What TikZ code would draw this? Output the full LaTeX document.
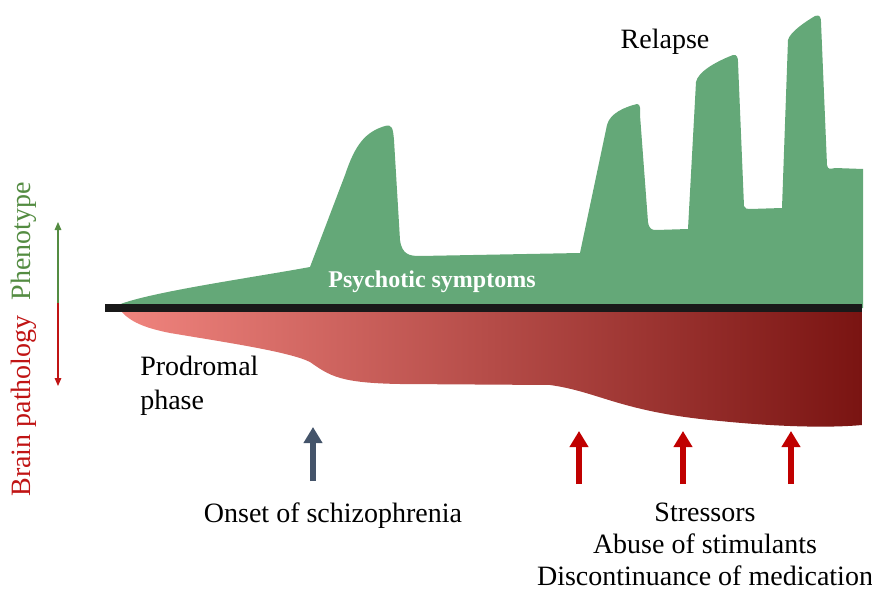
\documentclass[tikz,border=0pt]{standalone}
\usepackage{fontspec}
\setmainfont{Liberation Serif}
\usetikzlibrary{arrows.meta, positioning}

\definecolor{symgreen}{RGB}{100,168,120}
\definecolor{phenogreen}{RGB}{84,140,66}
\definecolor{pathred}{RGB}{192,20,20}
\definecolor{onsetblue}{RGB}{68,84,106}
\definecolor{trigred}{RGB}{192,0,0}
\definecolor{redlight}{RGB}{240,132,126}
\definecolor{redmid}{RGB}{178,66,60}
\definecolor{reddark}{RGB}{122,20,18}

\begin{document}
\begin{tikzpicture}[x=0.75pt, y=-0.75pt,
  lbl/.style={font=\fontsize{21}{25}\selectfont, align=center, inner sep=0pt},
  uparrow/.style={line width=5pt, -{Triangle[width=13.5pt, length=12pt]}},
  axisarrow/.style={line width=0.8pt, -{Triangle[width=5pt, length=6pt]}}]
\useasboundingbox (0,0) rectangle (872,592);

% symptoms above the time line
\fill[symgreen] (118,305) .. controls (150,292) and (250,278) .. (310,267)
  -- (345,175) .. controls (355,145) and (365,132) .. (385,126)
  .. controls (392,124) and (393,128) .. (394,140)
  -- (400,240) .. controls (402,255) and (410,256) .. (420,256)
  -- (580,253)
  -- (607,125) .. controls (610,113) and (625,107) .. (637,104)
  .. controls (641,104) and (640,110) .. (640,115)
  -- (648,222) .. controls (649,229) and (652,230) .. (656,230)
  -- (688,229)
  -- (696,82) .. controls (698,72) and (715,62) .. (733,55)
  .. controls (737,54) and (738,58) .. (738,62)
  -- (744,206) .. controls (745,209) and (747,209) .. (750,209)
  -- (782,208)
  -- (788,40) .. controls (790,32) and (805,22) .. (815,16)
  .. controls (820,14) and (821,18) .. (821,22)
  -- (827,165) .. controls (828,170) and (830,169) .. (835,168)
  -- (863,169) -- (863,308) -- (118,308) -- cycle;

% pathology below the time line
\shade[left color=redlight, middle color=redmid, right color=reddark]
  (120,310) .. controls (130,322) and (145,328) .. (170,333)
  .. controls (230,343) and (290,352) .. (310,362)
  .. controls (330,376) and (340,383) .. (400,384)
  -- (550,385)
  .. controls (600,392) and (620,412) .. (720,421)
  .. controls (780,427) and (830,428) .. (862,425)
  -- (862,310) -- cycle;

% time line
\coordinate (tstart) at (105,308);
\coordinate (tend) at (862,308);
\draw[line width=6pt, black!90] (tstart) -- (tend);

% labels
\node[lbl, font=\fontsize{18}{22}\selectfont\bfseries, text=white] (sym) at (432,282) {Psychotic symptoms};
\node[lbl] (relapse) at (665,42) {Relapse};
\node[lbl, align=left, anchor=north west] (prod) at (140,356) {Prodromal\\phase};
\node[lbl] (onset) at (333,516) {Onset of schizophrenia};
\node[lbl, font=\fontsize{21}{24}\selectfont, anchor=north] (stress) at (705,503)
  {Stressors\\Abuse of stimulants\\Discontinuance of medication};

% left axis
\node[lbl, rotate=90, text=phenogreen] (pheno) at (24,241) {Phenotype};
\node[lbl, rotate=90, text=pathred] (brain) at (24,406) {Brain pathology};
\coordinate (axmid) at (58,303);
\coordinate (axtop) at (58,222);
\coordinate (axbot) at (58,386);
\draw[axisarrow, phenogreen] (axmid) -- (axtop);
\draw[axisarrow, pathred] (axmid) -- (axbot);

% triggers
\coordinate (on0) at (313,481);
\coordinate (on1) at (313,427);
\draw[uparrow, onsetblue] (on0) -- (on1);
\foreach \i/\xx in {1/579, 2/683, 3/791} {
  \coordinate (tr\i a) at (\xx,484);
  \coordinate (tr\i b) at (\xx,431);
  \draw[uparrow, trigred] (tr\i a) -- (tr\i b);
}
\end{tikzpicture}
\end{document}
